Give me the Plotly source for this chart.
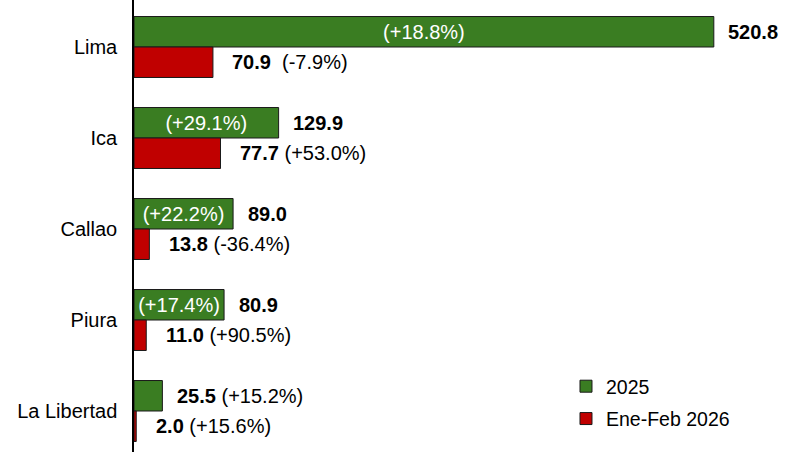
import plotly.graph_objects as go

categories = ["Lima", "Ica", "Callao", "Piura", "La Libertad"]
values_2025 = [520.8, 129.9, 89.0, 80.9, 25.5]
pct_2025 = ["(+18.8%)", "(+29.1%)", "(+22.2%)", "(+17.4%)", "(+15.2%)"]
pct_inside_2025 = [True, True, True, True, False]
values_2026 = [70.9, 77.7, 13.8, 11.0, 2.0]
pct_2026 = ["(-7.9%)", "(+53.0%)", "(-36.4%)", "(+90.5%)", "(+15.6%)"]
sep_2026 = ["\u00a0 ", " ", " ", " ", " "]
series_names = ["2025", "Ene-Feb 2026"]

GREEN = "#3A7D22"
RED = "#C00000"
EDGE = "#1a1a1a"
FONT = "Arial, Liberation Sans, sans-serif"

fig = go.Figure()
fig.add_trace(go.Bar(
    y=categories, x=values_2025, orientation="h", name=series_names[0],
    legendgroup="g2025",
    marker=dict(color=GREEN, line=dict(color=EDGE, width=1)),
    text=[p if ins else "" for p, ins in zip(pct_2025, pct_inside_2025)],
    textposition="inside", insidetextanchor="middle", constraintext="none",
    textfont=dict(color="white", size=20, family=FONT),
    hoverinfo="skip",
))
fig.add_trace(go.Bar(
    y=categories, x=values_2026, orientation="h", name=series_names[1],
    legendgroup="g2026",
    marker=dict(color=RED, line=dict(color=EDGE, width=1)),
    hoverinfo="skip",
))

annotations = []
for cat, v, p, ins in zip(categories, values_2025, pct_2025, pct_inside_2025):
    txt = f"<b>{v:.1f}</b>" if ins else f"<b>{v:.1f}</b> {p}"
    annotations.append(dict(x=v, y=cat, xref="x", yref="y", text=txt, showarrow=False,
                            xanchor="left", yanchor="middle", xshift=12.5, yshift=15.25,
                            font=dict(size=20, color="black", family=FONT)))
for cat, v, p, s in zip(categories, values_2026, pct_2026, sep_2026):
    annotations.append(dict(x=v, y=cat, xref="x", yref="y", text=f"<b>{v:.1f}</b>{s}{p}",
                            showarrow=False, xanchor="left", yanchor="middle",
                            xshift=17.5, yshift=-15.25,
                            font=dict(size=20, color="black", family=FONT)))

fig.update_layout(
    width=802, height=452,
    margin=dict(l=134, r=0, t=0, b=0, autoexpand=False),
    paper_bgcolor="white", plot_bgcolor="white",
    barmode="group", bargap=0.33, bargroupgap=0,
    font=dict(family=FONT, size=20, color="black"),
    annotations=annotations,
    showlegend=True,
    legend=dict(x=0.6467, y=0.188, xanchor="left", yanchor="top",
                traceorder="grouped", tracegroupgap=4,
                font=dict(size=19.5, color="black", family=FONT),
                bgcolor="rgba(0,0,0,0)"),
    xaxis=dict(range=[0, 600], showgrid=False, zeroline=False, showticklabels=False,
               showline=False, ticks="", automargin=False),
    yaxis=dict(range=[4.4505, -0.5165], showgrid=False, zeroline=False,
               showline=True, linecolor="black", linewidth=1.5,
               ticks="", ticklabelstandoff=11, automargin=False,
               tickfont=dict(size=20, color="black", family=FONT)),
)

fig.write_html("out.html", config={"displayModeBar": False},
               post_script="document.body.style.margin='0';document.body.style.overflow='hidden';")
